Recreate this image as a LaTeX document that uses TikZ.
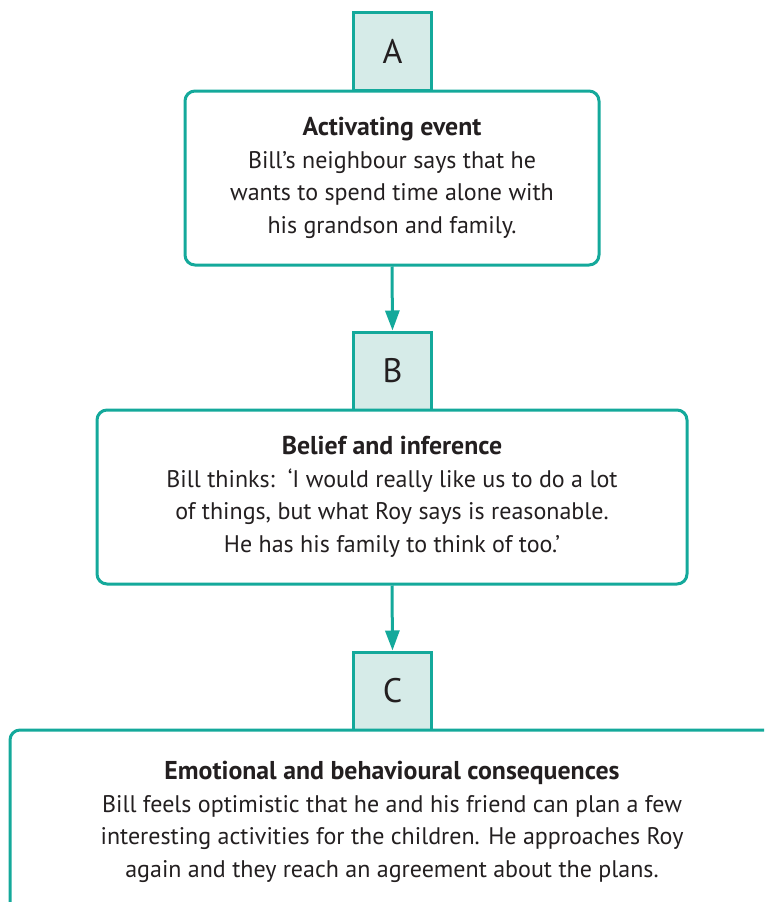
\documentclass[tikz,border=0pt]{standalone}
\usepackage{fontspec}
\setmainfont{PT Sans}
\usetikzlibrary{arrows.meta}
\definecolor{teal}{HTML}{14A99B}
\definecolor{tealfill}{HTML}{D6EBE8}
\definecolor{ink}{HTML}{231F20}
\newcommand{\boxtitle}[1]{{\fontsize{25.8}{32.5}\selectfont\bfseries #1}}
\tikzset{
  letterbox/.style={draw=teal, line width=3pt, fill=tealfill, minimum width=78pt,
    minimum height=78pt, inner sep=0pt, text=ink, font=\fontsize{34}{34}\selectfont},
  mainbox/.style={draw=teal, line width=3pt, fill=white, rounded corners=10pt,
    inner sep=0pt, align=center, text=ink, font=\fontsize{24}{32.5}\selectfont},
  flow/.style={draw=teal, line width=3pt, -{Triangle[length=20pt,width=14pt]}}
}
\begin{document}
\begin{tikzpicture}[x=1pt,y=-1pt]
  \useasboundingbox (0,0) rectangle (764,902);
  \clip (0,0) rectangle (764,902);
  % step A
  \node[letterbox] (la) at (392.5,51) {A};
  \node[mainbox, minimum width=414pt, minimum height=174pt] (ma) at (392,178)
    {\boxtitle{Activating event}\\Bill’s neighbour says that he\\wants to spend time alone with\\his grandson and family.};
  % step B
  \node[letterbox] (lb) at (392.5,371) {B};
  \node[mainbox, minimum width=590pt, minimum height=174pt] (mb) at (392,497)
    {\boxtitle{Belief and inference}\\Bill thinks:\ \ ‘I would really like us to do a lot\\of things, but what Roy says is reasonable.\\He has his family to think of too.’};
  % step C
  \node[letterbox] (lc) at (392.5,691) {C};
  \node[mainbox, minimum width=764pt, minimum height=184pt] (mc) at (392,822)
    {\boxtitle{Emotional and behavioural consequences}\\Bill feels optimistic that he and his friend can plan a few\\interesting activities for the children. He approaches Roy\\again and they reach an agreement about the plans.};
  % connectors
  \draw[flow] (ma.south) -- (lb.north);
  \draw[flow] (mb.south) -- (lc.north);
\end{tikzpicture}
\end{document}
